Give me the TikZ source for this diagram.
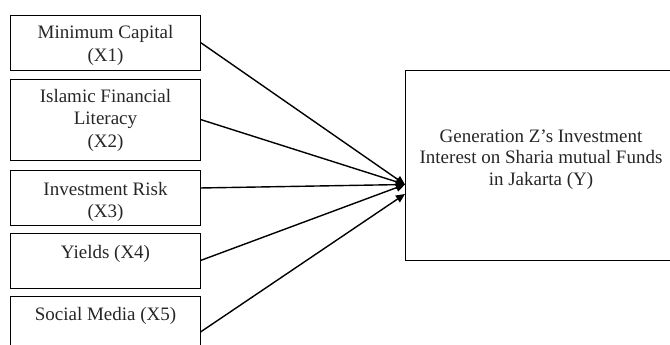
\documentclass[tikz,border=0pt]{standalone}
\usepackage{fontspec}
\setmainfont{Liberation Serif}
\usetikzlibrary{arrows.meta,calc}
\begin{document}
\begin{tikzpicture}[x=1pt,y=-1pt,
  box/.style={draw=black,line width=0.9pt,minimum width=190pt,minimum height=#1,inner sep=0pt,outer sep=0pt},
  lbl/.style={align=center,inner sep=0pt,font=\fontsize{19}{22.5}\selectfont,text=black!85,anchor=base},
  rlbl/.style={align=center,inner sep=0pt,font=\fontsize{19}{21.5}\selectfont,text=black!85,anchor=base},
  conn/.style={line width=1.4pt,-{Triangle[length=9pt,width=8pt]}}
]
\clip (0,0) rectangle (670,345);
% left boxes
\node[box=55pt] (b1) at (105.5,42.5) {};
\node[box=81pt] (b2) at (105.5,119.5) {};
\node[box=55pt] (b3) at (105.5,197.5) {};
\node[box=55pt] (b4) at (105.5,260.5) {};
\node[box=72pt] (b5) at (105.5,332) {};
\node[lbl] (t1) at ([yshift=-46.5pt]b1.north) {Minimum Capital\\(X1)};
\node[lbl] (t2) at ([yshift=-68pt]b2.north) {Islamic Financial\\Literacy\\(X2)};
\node[lbl] (t3) at ([yshift=-47.5pt]b3.north) {Investment Risk\\(X3)};
\node[lbl] (t4) at ([yshift=-25pt]b4.north) {Yields (X4)};
\node[lbl] (t5) at ([yshift=-24pt]b5.north) {Social Media (X5)};
% right box
\node[draw=black,line width=0.9pt,minimum width=272pt,minimum height=190pt,inner sep=0pt,outer sep=0pt] (y) at (541,165.5) {};
\node[rlbl] (ty) at (541,185) {Generation Z’s Investment\\Interest on Sharia mutual Funds\\in Jakarta (Y)};
% targets
\coordinate (tipA) at ($(y.north west)!0.6!(y.south west)$);
\coordinate (tipB) at ($(y.north west)!0.65!(y.south west)$);
\coordinate (s3) at ($(b3.north east)!0.327!(b3.south east)$);
% connectors
\draw[conn] (b1.east) -- (tipA);
\draw[conn] (b2.east) -- (tipA);
\draw[conn] (s3) -- (tipA);
\draw[conn] (b4.east) -- (tipA);
\draw[conn] (b5.east) -- (tipB);
\end{tikzpicture}
\end{document}
